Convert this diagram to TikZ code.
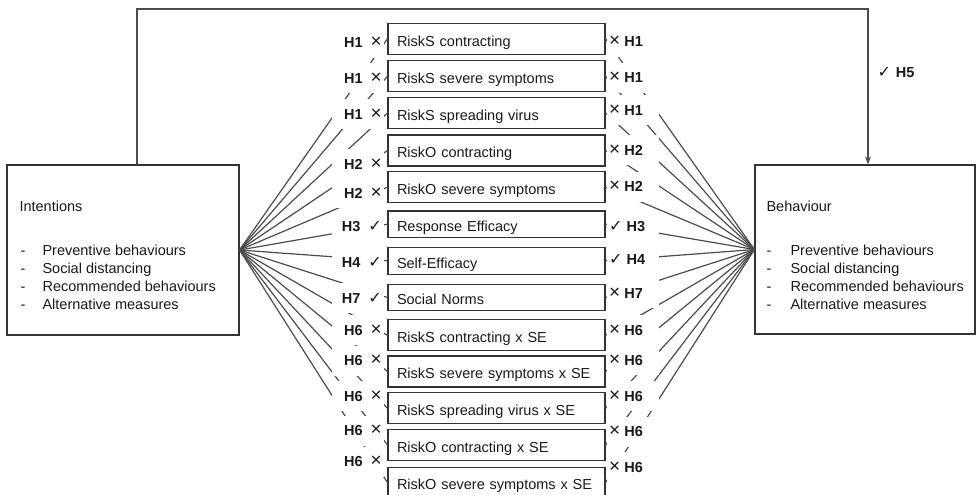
\documentclass[tikz,border=0pt]{standalone}
\usepackage{fontspec}
\setmainfont{Liberation Sans}
\newfontfamily\symfont{DejaVu Sans}
\usetikzlibrary{arrows.meta}
\newcommand\mycheck{{\symfont\mdseries\fontsize{16}{16}\selectfont ✓}}
\newcommand\mycross{{\mdseries\fontsize{19}{19}\selectfont ×}}
\begin{document}
\begin{tikzpicture}[x=1pt,y=-1pt,
  txt/.style={font=\fontsize{14.5}{17}\selectfont, text=black!90},
  mainbox/.style={draw=black!80, line width=1.1pt, inner sep=0pt},
  factor/.style={draw=black!80, line width=1.1pt, txt, text width=199pt, align=left,
     inner xsep=9pt, inner ysep=0pt, text height=14.5pt, text depth=0pt, minimum height=#1},
  fan/.style={draw=black!70, line width=1.2pt},
  hyp/.style={font=\fontsize{14.5}{17}\selectfont\bfseries, text=black!90, fill=white,
     inner xsep=2pt, inner ysep=0pt, text width=48pt, minimum height=30pt},
  hypL/.style={hyp, align=right, anchor=east},
  hypR/.style={hyp, align=left, anchor=west}]
\useasboundingbox (0,0) rectangle (977,495);

% main boxes
\node[mainbox, minimum width=232pt, minimum height=170pt] (intent) at (123,250) {};
\node[mainbox, minimum width=220pt, minimum height=169pt] (behav) at (865,249.5) {};

\node[txt, anchor=base west] (intitle) at (16,211) {Intentions};
\node[txt, anchor=base west] (behtitle) at (763,211) {Behaviour};
\foreach \k/\s in {0/Preventive behaviours, 1/Social distancing, 2/Recommended behaviours, 3/Alternative measures}{
  \node[txt, anchor=base west] (idash\k) at (17,{255+18*\k}) {-};
  \node[txt, anchor=base west] (iitem\k) at (39,{255+18*\k}) {\s};
  \node[txt, anchor=base west] (bdash\k) at (763,{255+18*\k}) {-};
  \node[txt, anchor=base west] (bitem\k) at (787,{255+18*\k}) {\s};
}

% factor boxes and fan connectors
\foreach \i/\cy/\h/\t in {
  1/38.8/31/RiskS contracting,
  2/76.3/31/RiskS severe symptoms,
  3/113/31/RiskS spreading virus,
  4/150.5/31/RiskO contracting,
  5/187.2/31/RiskO severe symptoms,
  6/224.2/26.5/Response Efficacy,
  7/260.8/26.5/Self-Efficacy,
  8/297.5/26.5/Social Norms,
  9/335.3/31/RiskS contracting x SE,
  10/371.5/31/RiskS severe symptoms x SE,
  11/408.3/31/RiskS spreading virus x SE,
  12/445/31/RiskO contracting x SE,
  13/482.6/31/RiskO severe symptoms x SE}{
  \node[factor=\h pt] (box\i) at (496.5,\cy) {\t};
  \draw[fan] (intent.east) -- (box\i.west);
  \draw[fan] (box\i.east) -- (behav.west);
}

% hypothesis labels
\foreach \i/\ly/\lt/\ry/\rt in {
  1/42.7/H1\hspace{8pt}\mycross/41.7/\mycross\hspace{4pt}H1,
  2/78.3/H1\hspace{8pt}\mycross/77.7/\mycross\hspace{4pt}H1,
  3/114.3/H1\hspace{8pt}\mycross/110/\mycross\hspace{4pt}H1,
  4/164/H2\hspace{8pt}\mycross/150/\mycross\hspace{4pt}H2,
  5/193.3/H2\hspace{8pt}\mycross/186.7/\mycross\hspace{4pt}H2,
  6/226.7/H3\hspace{8pt}\mycheck/226.7/\mycheck\hspace{4pt}H3,
  7/262.7/H4\hspace{8pt}\mycheck/259/\mycheck\hspace{4pt}H4,
  8/298.3/H7\hspace{8pt}\mycheck/293.3/\mycross\hspace{4pt}H7,
  9/330/H6\hspace{8pt}\mycross/330/\mycross\hspace{4pt}H6,
  10/360.7/H6\hspace{8pt}\mycross/360/\mycross\hspace{4pt}H6,
  11/396/H6\hspace{8pt}\mycross/396/\mycross\hspace{4pt}H6,
  12/430.7/H6\hspace{8pt}\mycross/431.7/\mycross\hspace{4pt}H6,
  13/461.7/H6\hspace{8pt}\mycross/467.3/\mycross\hspace{4pt}H6}{
  \node[hypL] (hl\i) at (384,\ly) {\lt};
  \node[hypR] (hr\i) at (607,\ry) {\rt};
}

% direct path H5
\coordinate (corner) at (868,9);
\draw[fan, line width=1.3pt, -{Stealth[length=8pt,width=6pt]}]
  ([xshift=14pt]intent.north) |- (corner) -- (corner |- behav.north);
\node[font=\fontsize{14.5}{17}\selectfont\bfseries, text=black!90, anchor=west] (h5) at (874,73) {\mycheck\hspace{5pt}H5};
\end{tikzpicture}
\end{document}
